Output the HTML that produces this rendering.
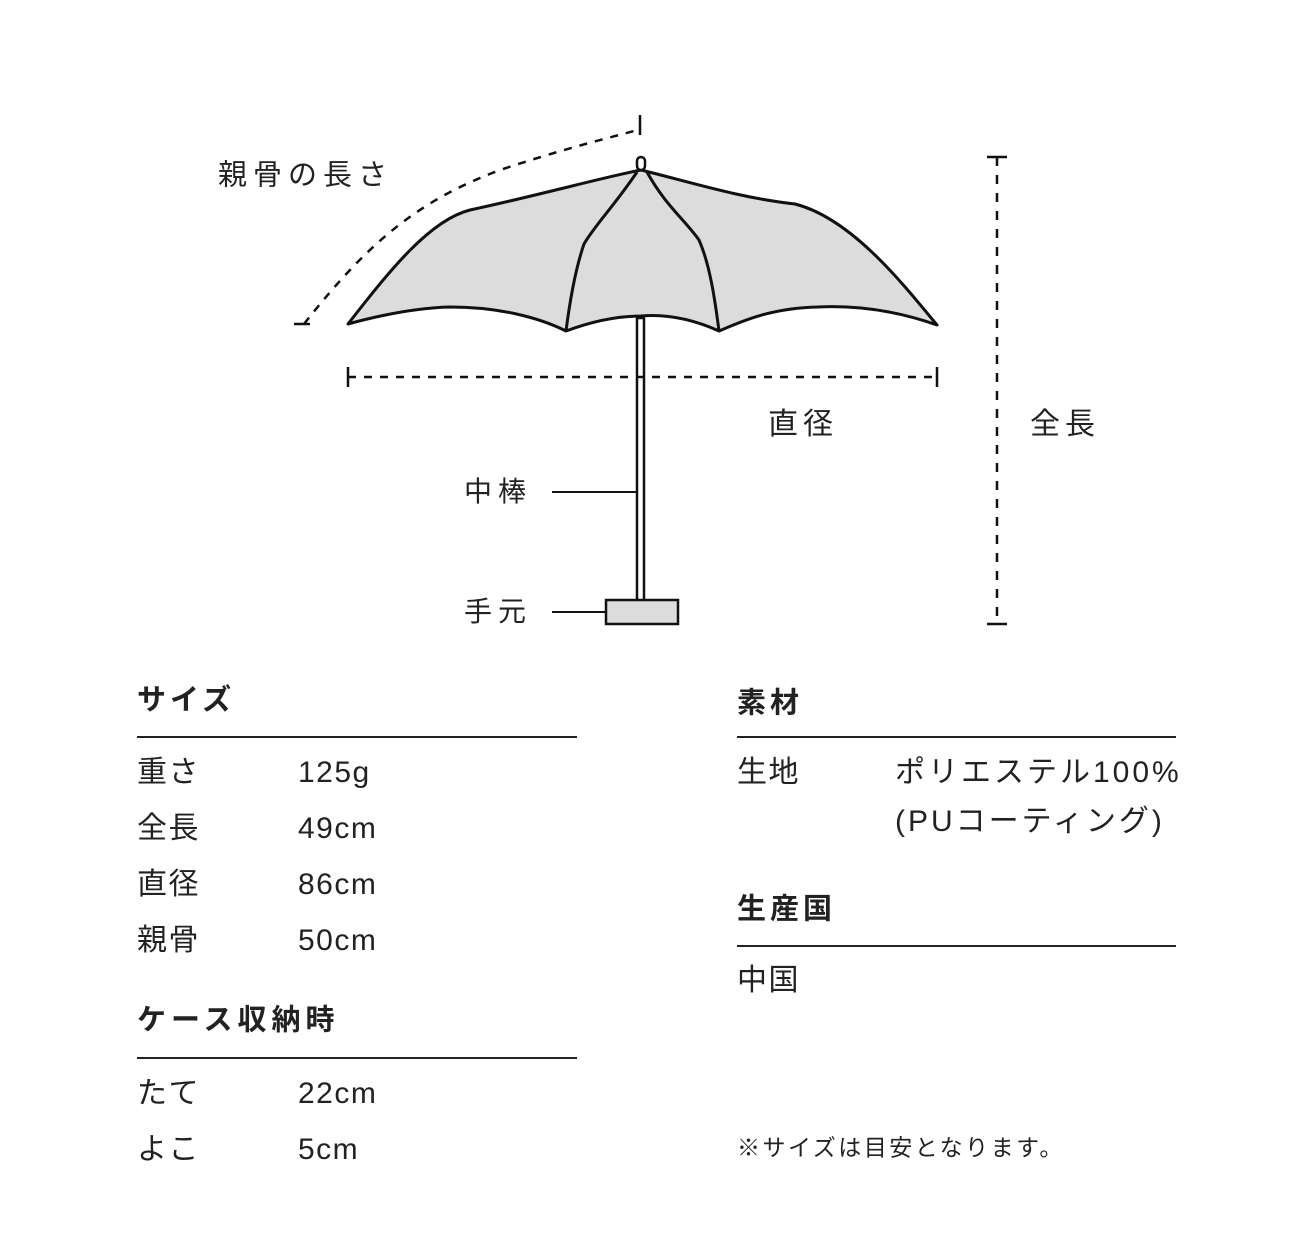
<!DOCTYPE html>
<html><head><meta charset="utf-8"><style>
body{margin:0;width:1300px;height:1249px;background:#fff;position:relative;overflow:hidden;font-family:"Liberation Sans","Noto Sans CJK JP",sans-serif;color:#222}
.t{position:absolute;white-space:nowrap;line-height:1;transform:translateY(-50%)}
.h{font-weight:bold;font-size:29px;letter-spacing:4px}
.r{font-size:30px;letter-spacing:1.5px}
.l{position:absolute;height:2px;background:#222}
</style></head><body>
<svg width="1300" height="660" style="position:absolute;left:0;top:0" fill="none" stroke="#111">
<path d="M348,324 C390,270 430,220 470,210 C540,195 600,178 641,170 C690,182 740,198 795,204 C850,218 900,280 937,325 C900,312 860,305 818,307 C770,308 740,322 719,331 C690,318 665,314 641,316 C615,316 590,322 566,331 C540,318 500,307 450,307 C410,308 370,318 348,324 Z" fill="#dcdcdc" stroke-width="3" stroke-linejoin="round"/>
<path d="M637,172 C615,205 595,225 584,244 C575,270 570,300 566,331" stroke-width="3"/>
<path d="M647,172 C665,205 685,220 699,240 C710,265 715,300 719,331" stroke-width="3"/>
<rect x="637" y="157" width="8" height="13" rx="4" fill="#fff" stroke-width="2.5"/>
<rect x="637" y="318" width="7" height="283" fill="#fff" stroke-width="2.5"/>
<rect x="606" y="600" width="72" height="24" fill="#dcdcdc" stroke-width="2.5"/>
<path d="M304,324 C370,240 420,200 500,170 C560,150 600,140 638,130" stroke-width="2.5" stroke-dasharray="8,8"/>
<path d="M294,324 H310 M640,115 V135" stroke-width="2.5"/>
<path d="M348,377 H937" stroke-width="2.5" stroke-dasharray="8,8"/>
<path d="M348,367 V387 M937,367 V387" stroke-width="2.5"/>
<path d="M997,157 V624" stroke-width="2.5" stroke-dasharray="9,9"/>
<path d="M987,157 H1007 M987,624 H1007" stroke-width="2.5"/>
<path d="M552,492 H637 M552,612 H606" stroke-width="2"/>
</svg>
<div class="t r" style="left:218px;top:176px;font-size:29px;letter-spacing:6px">親骨の長さ</div>
<div class="t r" style="left:768px;top:425px;letter-spacing:5px">直径</div>
<div class="t r" style="left:1030px;top:425px;letter-spacing:5px">全長</div>
<div class="t r" style="left:464px;top:492px;font-size:28px;letter-spacing:6px">中棒</div>
<div class="t r" style="left:464px;top:612px;font-size:28px;letter-spacing:6px">手元</div>

<div class="t h" style="left:137px;top:701px">サイズ</div>
<div class="l" style="left:137px;top:736px;width:440px"></div>
<div class="t r" style="left:137px;top:773px">重さ</div><div class="t r" style="left:298px;top:773px">125g</div>
<div class="t r" style="left:137px;top:829px">全長</div><div class="t r" style="left:298px;top:829px">49cm</div>
<div class="t r" style="left:137px;top:885px">直径</div><div class="t r" style="left:298px;top:885px">86cm</div>
<div class="t r" style="left:137px;top:941px">親骨</div><div class="t r" style="left:298px;top:941px">50cm</div>
<div class="t h" style="left:137px;top:1021px;letter-spacing:5px">ケース収納時</div>
<div class="l" style="left:137px;top:1057px;width:440px"></div>
<div class="t r" style="left:137px;top:1094px">たて</div><div class="t r" style="left:298px;top:1094px">22cm</div>
<div class="t r" style="left:137px;top:1150px">よこ</div><div class="t r" style="left:298px;top:1150px">5cm</div>

<div class="t h" style="left:737px;top:704px">素材</div>
<div class="l" style="left:737px;top:736px;width:439px"></div>
<div class="t r" style="left:737px;top:773px">生地</div>
<div class="t r" style="left:895px;top:773px;letter-spacing:3px">ポリエステル100%</div>
<div class="t r" style="left:895px;top:822px;letter-spacing:3px">(PUコーティング)</div>
<div class="t h" style="left:737px;top:910px">生産国</div>
<div class="l" style="left:737px;top:945px;width:439px"></div>
<div class="t r" style="left:737px;top:981px">中国</div>
<div class="t" style="left:737px;top:1148px;font-size:23px;letter-spacing:2.5px">※サイズは目安となります。</div>
</body></html>
